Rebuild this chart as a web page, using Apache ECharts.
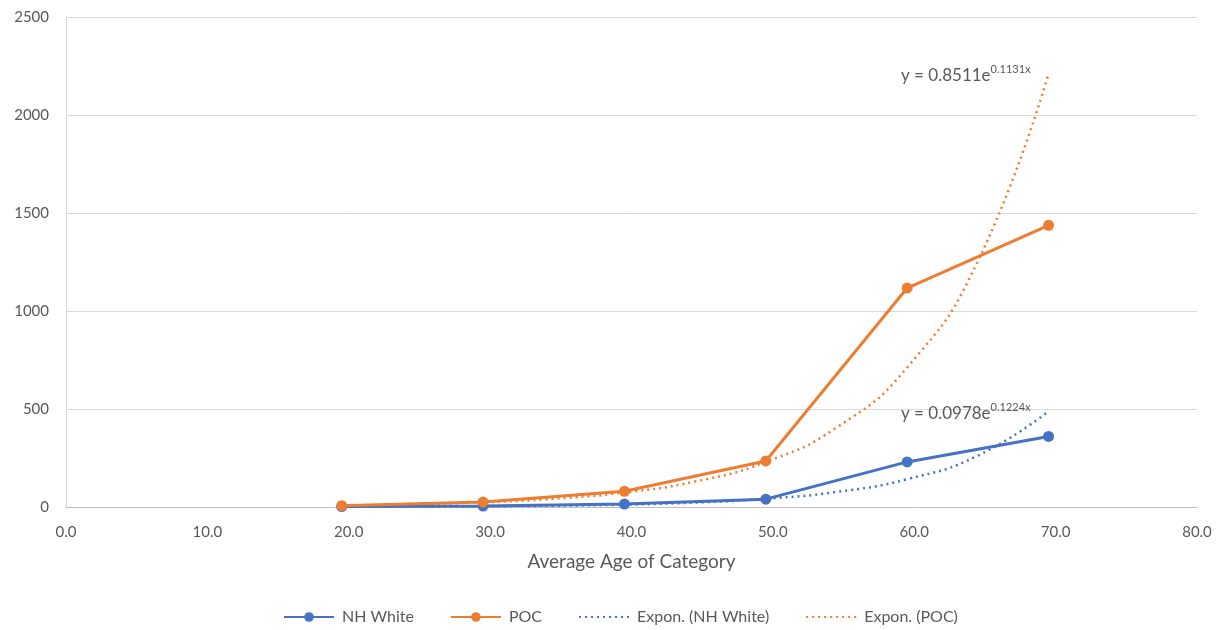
<!DOCTYPE html>
<html>
<head>
<meta charset="utf-8">
<script src="https://cdn.jsdelivr.net/npm/echarts@6/dist/echarts.min.js"></script>
<style>
  html, body { margin: 0; padding: 0; background: #fff; }
  #chart { width: 1220px; height: 630px; }
</style>
</head>
<body>
<div id="chart"></div>
<script>
// average age per category
const ages = [19.5, 29.5, 39.5, 49.5, 59.5, 69.5]
const nhWhite = [2, 5, 15, 40, 230, 360]
const poc = [7, 25, 80, 235, 1117, 1437]

// trendline readings (every 5 years along the dotted curves)
const trendAges = [19.5, 24.5, 29.5, 34.5, 39.5, 44.5, 49.5, 54.5, 59.5, 64.5, 69.5]
const trendNhWhite = [1, 2, 3.6, 6.7, 12, 23, 42, 77, 142, 262, 488]
const trendPoc = [8, 14, 24, 42, 74, 130, 230, 405, 712, 1255, 2212]

const labelNhWhite = ['y = 0.0978e', '0.1224x']
const labelPoc = ['y = 0.8511e', '0.1131x']

const font = 'Lato, "Open Sans", sans-serif'
const textColor = '#595959'
const blue = '#4472C4'
const orange = '#ED7D31'

function pairs (xs, ys) {
  return xs.map((x, i) => [x, ys[i]])
}

// equation shown at the end of the trendline
function eqLabel (eq) {
  return {
    show: true,
    align: 'right',
    offset: [-26, 2],
    formatter: '{a|' + eq[0] + '}{b|' + eq[1] + '}',
    rich: {
      a: { fontFamily: font, fontSize: 17, color: textColor, lineHeight: 22 },
      b: { fontFamily: font, fontSize: 11, color: textColor, verticalAlign: 'top', padding: [0, 0, 10, 0] }
    }
  }
}

let chart = echarts.init(document.getElementById('chart'))
let option = {
  animation: false,
  textStyle: { fontFamily: font },
  grid: {
    left: 66,
    right: 23,
    top: 17,
    bottom: 123
  },
  legend: {
    bottom: 0,
    left: 278,
    itemWidth: 50,
    itemHeight: 12,
    itemGap: 36,
    textStyle: { color: textColor, fontSize: 16, fontFamily: font, padding: [0, 0, 0, 3] },
    data: [
      'NH White',
      'POC',
      { name: 'Expon. (NH White)', itemStyle: { opacity: 0 } },
      { name: 'Expon. (POC)', itemStyle: { opacity: 0 } }
    ]
  },
  xAxis: {
    type: 'value',
    min: 0,
    max: 80,
    interval: 10,
    name: 'Average Age of Category',
    nameLocation: 'middle',
    nameGap: 45,
    nameTextStyle: { color: textColor, fontSize: 19, fontFamily: font },
    axisLine: { show: true, lineStyle: { color: '#bfbfbf', width: 1 } },
    axisTick: { show: false },
    splitLine: { show: false },
    axisLabel: {
      color: textColor,
      fontSize: 15,
      margin: 18,
      formatter: (v) => v.toFixed(1)
    }
  },
  yAxis: {
    type: 'value',
    min: 0,
    max: 2500,
    interval: 500,
    axisLine: { show: true, lineStyle: { color: '#d9d9d9', width: 1 } },
    axisTick: { show: false },
    splitLine: { show: true, lineStyle: { color: '#d9d9d9', width: 1 } },
    axisLabel: { color: textColor, fontSize: 15, margin: 17, formatter: (v) => String(v) }
  },
  series: [
    {
      name: 'NH White',
      type: 'line',
      data: pairs(ages, nhWhite),
      symbol: 'circle',
      symbolSize: 11,
      z: 3,
      itemStyle: { color: blue },
      lineStyle: { color: blue, width: 3 }
    },
    {
      name: 'POC',
      type: 'line',
      data: pairs(ages, poc),
      symbol: 'circle',
      symbolSize: 11,
      z: 3,
      itemStyle: { color: orange },
      lineStyle: { color: orange, width: 3 }
    },
    {
      name: 'Expon. (NH White)',
      type: 'line',
      data: pairs(trendAges, trendNhWhite),
      smooth: true,
      symbol: 'none',
      z: 2,
      itemStyle: { color: blue },
      lineStyle: { color: blue, width: 2.5, type: [2, 4] },
      endLabel: eqLabel(labelNhWhite)
    },
    {
      name: 'Expon. (POC)',
      type: 'line',
      data: pairs(trendAges, trendPoc),
      smooth: true,
      symbol: 'none',
      z: 2,
      itemStyle: { color: orange },
      lineStyle: { color: orange, width: 2.5, type: [2, 4] },
      endLabel: eqLabel(labelPoc)
    }
  ]
}
chart.setOption(option)
window.addEventListener('resize', () => {
  chart.resize()
})
</script>
</body>
</html>
